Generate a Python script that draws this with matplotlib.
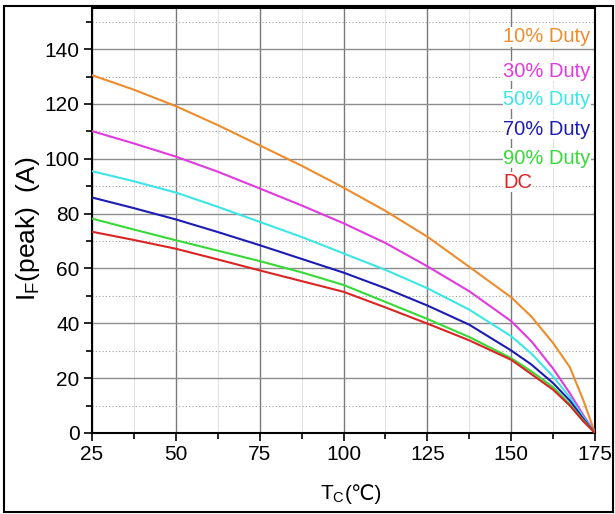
import matplotlib
matplotlib.use("Agg")
import matplotlib.pyplot as plt
import matplotlib as mpl
from matplotlib.patches import Rectangle
from matplotlib.ticker import MultipleLocator

# fonts
mpl.rcParams['font.family'] = ['Liberation Sans', 'DejaVu Sans']
mpl.rcParams['mathtext.fontset'] = 'custom'
mpl.rcParams['mathtext.rm'] = 'Liberation Sans'
mpl.rcParams['mathtext.it'] = 'Liberation Sans:italic'

# data
tc = [25, 37.5, 50, 62.5, 75, 87.5, 100, 112.5, 125, 137.5, 150, 156, 162.5, 167.5, 171.5, 175]
duty10 = [130.5, 125.2, 119.2, 112.3, 104.9, 97.5, 89.5, 81.0, 71.6, 60.6, 49.5, 42.5, 32.8, 24.0, 12.0, 0]
duty30 = [110.1, 105.6, 100.8, 95.3, 89.2, 83.0, 76.5, 69.3, 60.8, 51.7, 40.8, 33.5, 23.5, 14.5, 6.5, 0]
duty50 = [95.5, 91.8, 87.7, 82.5, 77.0, 71.5, 65.5, 59.5, 52.8, 45.0, 35.3, 29.0, 20.6, 13.0, 5.8, 0]
duty70 = [85.9, 82.0, 77.9, 73.3, 68.5, 63.5, 58.5, 52.8, 46.5, 39.5, 30.1, 25.0, 18.2, 11.8, 5.2, 0]
duty90 = [78.2, 74.2, 70.3, 66.5, 62.7, 58.6, 54.0, 47.8, 41.6, 35.0, 27.3, 22.5, 16.7, 10.5, 4.6, 0]
dc = [73.4, 70.4, 67.2, 63.3, 59.3, 55.4, 51.5, 45.8, 39.9, 33.8, 26.7, 21.5, 15.8, 10.0, 4.3, 0]

labels = ['10% Duty', '30% Duty', '50% Duty', '70% Duty', '90% Duty', 'DC']
colors = ['#EE8C2C', '#E03AE0', '#3CE6E6', '#1C1CB4', '#36D936', '#DC2424']
label_y = [144.5, 132.0, 121.8, 110.8, 100.2, 91.4]

fig = plt.figure(figsize=(6.15, 5.14), dpi=100)
ax = fig.add_axes([92/615, 1-433/514, 503/615, 425/514])

# outer frame
fig.patches.append(Rectangle((4/615, 2/514), 609/615, 506/514, transform=fig.transFigure,
                             fill=False, edgecolor='black', linewidth=1.5))

for y, c in zip([duty10, duty30, duty50, duty70, duty90, dc], colors):
    ax.plot(tc, y, color=c, linewidth=1.5, zorder=3)

ax.set_xlim(25, 175)
ax.set_ylim(0, 155)
ax.xaxis.set_major_locator(MultipleLocator(25))
ax.xaxis.set_minor_locator(MultipleLocator(12.5))
ax.yaxis.set_major_locator(MultipleLocator(20))
ax.yaxis.set_minor_locator(MultipleLocator(10))

# grid
ax.grid(which='major', axis='x', color='#7a7a7a', linewidth=1.0)
ax.grid(which='major', axis='y', color='#8c8c8c', linewidth=1.0)
ax.grid(which='minor', axis='x', color='#e4e4e4', linewidth=0.8)
ax.grid(which='minor', axis='y', color='#a0a0a0', linewidth=0.8, linestyle=(0, (1, 2)))
ax.set_axisbelow(True)

ax.tick_params(which='major', direction='out', length=6, width=1.2, labelsize=15, pad=3)
ax.tick_params(which='minor', direction='out', length=4.5, width=1.2)
for s in ax.spines.values():
    s.set_linewidth(1.5)

# legend-like labels
for lab, c, yy in zip(labels, colors, label_y):
    ax.text(147.6, yy, lab, color=c, fontsize=14.5, ha='left', va='center', zorder=4,
            bbox=dict(facecolor='white', edgecolor='none', pad=0.5))

ax.set_ylabel('I$_\\mathregular{F}$(peak)  (A)', fontsize=19)
ax.yaxis.set_label_coords(-0.1, 0.48)

# x label in two pieces so the degree-Celsius sign can come from DejaVu Sans
t1 = fig.text(345/615, 14/514, 'T$_\\mathregular{C}$', fontsize=15, ha='right', va='baseline')
ax.annotate('(℃)', xy=(1, 14), xycoords=(t1, 'figure pixels'), fontsize=15,
            family=['Liberation Sans', 'DejaVu Sans'], ha='left', va='baseline',
            annotation_clip=False)

fig.savefig('out.png', dpi=100)
